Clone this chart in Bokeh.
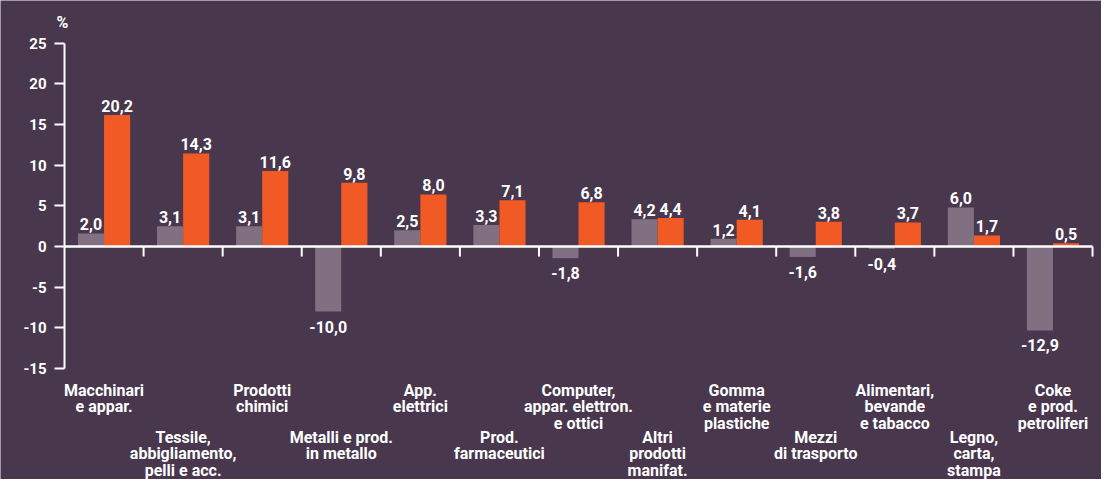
from bokeh.plotting import figure
from bokeh.models import ColumnDataSource, Range1d, FixedTicker, Label
from bokeh.core.properties import value
from bokeh.embed import file_html
from bokeh.resources import INLINE

# ---------------- data ----------------
categories = [
    "Macchinari\ne appar.",
    "Tessile,\nabbigliamento,\npelli e acc.",
    "Prodotti\nchimici",
    "Metalli e prod.\nin metallo",
    "App.\nelettrici",
    "Prod.\nfarmaceutici",
    "Computer,\nappar. elettron.\ne ottici",
    "Altri\nprodotti\nmanifat.",
    "Gomma\ne materie\nplastiche",
    "Mezzi\ndi trasporto",
    "Alimentari,\nbevande\ne tabacco",
    "Legno,\ncarta,\nstampa",
    "Coke\ne prod.\npetroliferi",
]
values_gray = [2.0, 3.1, 3.1, -10.0, 2.5, 3.3, -1.8, 4.2, 1.2, -1.6, -0.4, 6.0, -12.9]
values_orange = [20.2, 14.3, 11.6, 9.8, 8.0, 7.1, 6.8, 4.4, 4.1, 3.8, 3.7, 1.7, 0.5]
tick_labels = [-15, -10, -5, 0, 5, 10, 15, 20, 25]
axis_scale = 1.25  # the printed axis is compressed relative to the bar values

# ---------------- style ----------------
BG = "#48374d"
GRAY = "#807081"
ORANGE = "#f15a24"
WHITE = "#ffffff"
FONT = "Roboto"

n = len(categories)
fmt = lambda v: f"{v:.1f}".replace(".", ",")

x_gray = [i + 0.335 for i in range(n)]
x_orange = [i + 0.665 for i in range(n)]
x_center = [i + 0.5 for i in range(n)]

PX = 79.08  # px per category
p = figure(width=1101, height=479, output_backend="svg", toolbar_location=None,
           x_range=Range1d(-64 / PX, (1101 - 64) / PX), y_range=Range1d(-35.81, 37.81),
           min_border_left=0, min_border_right=0, min_border_top=0, min_border_bottom=0)
p.background_fill_color = BG
p.border_fill_color = BG
p.outline_line_color = None
p.xgrid.visible = False
p.ygrid.visible = False
p.xaxis.visible = False

yax = p.yaxis[0]
yax.fixed_location = 0
ticks = [t * axis_scale for t in tick_labels]
yax.ticker = FixedTicker(ticks=ticks)
yax.major_label_overrides = {t * axis_scale: str(lbl) for t, lbl in zip(tick_labels, tick_labels)}
yax.bounds = (ticks[0], ticks[-1])
yax.axis_line_color = WHITE
yax.axis_line_width = 2
yax.major_tick_line_color = WHITE
yax.major_tick_line_width = 2
yax.major_tick_out = 10
yax.major_tick_in = 0
yax.minor_tick_line_color = None
yax.major_label_text_color = WHITE
yax.major_label_text_font = FONT
yax.major_label_text_font_style = "bold"
yax.major_label_text_font_size = "15px"
yax.major_label_standoff = 8

src = ColumnDataSource(dict(
    xg=x_gray, xo=x_orange, xc=x_center,
    gl=[fmt(v) for v in values_gray], ol=[fmt(v) for v in values_orange],
    cat=categories,
    top_g=[max(v, 0) for v in values_gray], bot_g=[min(v, 0) for v in values_gray],
    top_o=[max(v, 0) for v in values_orange], bot_o=[min(v, 0) for v in values_orange],
    yoff_cat=[134 if i % 2 == 0 else 181 for i in range(n)],
))

p.vbar(x="xg", width=0.33, top="top_g", bottom="bot_g", source=src,
       fill_color=GRAY, line_color=None)
p.vbar(x="xo", width=0.33, top="top_o", bottom="bot_o", source=src,
       fill_color=ORANGE, line_color=None)

# value labels
d = src.data
for xs, vals, lab in (("xg", values_gray, "gl"), ("xo", values_orange, "ol")):
    pos = [i for i, v in enumerate(vals) if v >= 0]
    neg = [i for i, v in enumerate(vals) if v < 0]
    if pos:
        p.text(x=[d[xs][i] for i in pos], y=[vals[i] for i in pos],
               text=[d[lab][i] for i in pos], y_offset=-9,
               text_align="center", text_baseline="alphabetic",
               text_color=WHITE, text_font=value(FONT), text_font_style="bold",
               text_font_size="16px")
    if neg:
        p.text(x=[d[xs][i] for i in neg], y=[vals[i] for i in neg],
               text=[d[lab][i] for i in neg], y_offset=9,
               text_align="center", text_baseline="top",
               text_color=WHITE, text_font=value(FONT), text_font_style="bold",
               text_font_size="16px")

# zero line with category ticks
p.segment(x0=[0], y0=[0], x1=[n], y1=[0], line_color=WHITE, line_width=2.5)
p.segment(x0=list(range(1, n + 1)), y0=[0] * n, x1=list(range(1, n + 1)), y1=[-1.55] * n,
          line_color=WHITE, line_width=2)

# category labels (staggered)
p.text(x="xc", y=0, text="cat", y_offset="yoff_cat", source=src,
       text_align="center", text_baseline="top", text_line_height=0.87,
       text_color=WHITE, text_font=value(FONT), text_font_style="bold",
       text_font_size="16px")

p.add_layout(Label(x=0, y=34.4, text="%", x_offset=-2, text_align="center",
                   text_baseline="alphabetic", text_color=WHITE,
                   text_font=FONT, text_font_style="bold", text_font_size="16px"))

open("out.html", "w").write(file_html(p, INLINE))
